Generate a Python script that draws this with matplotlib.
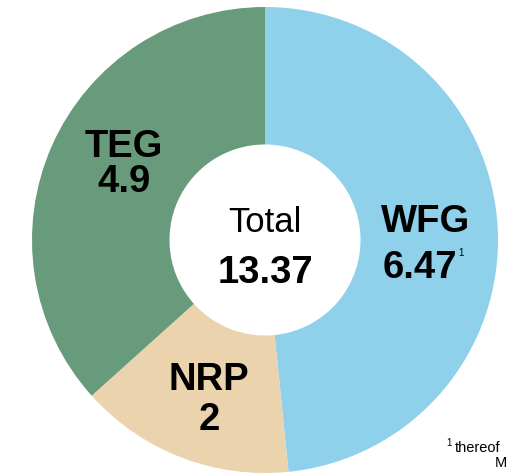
import matplotlib
matplotlib.use("Agg")
import matplotlib.pyplot as plt

plt.rcParams['font.family'] = ['Liberation Sans', 'DejaVu Sans']

labels = ['WFG', 'NRP', 'TEG']
values = [6.47, 2, 4.9]
colors = ['#8fd1eb', '#ebd3ae', '#689b7b']
total = 13.37

fig = plt.figure(figsize=(5.08, 4.75), dpi=100)
# center of the donut at about (265, 240) px, radius 233 px
ax = fig.add_axes([(265 - 233) / 508, (235 - 233) / 475, 466 / 508, 466 / 475])
ax.pie(values, colors=colors, startangle=90, counterclock=False, radius=1,
       wedgeprops=dict(width=1 - 0.41, edgecolor='none'))
ax.set_xlim(-1, 1)
ax.set_ylim(-1, 1)
ax.set_aspect('equal')
ax.axis('off')

# label baselines, in data units of the pie
pos = {'WFG': (0.691, 0.034, 0.665, -0.163),
       'NRP': (-0.24, -0.644, -0.24, -0.815),
       'TEG': (-0.605, 0.356, -0.605, 0.206)}
for lab, val in zip(labels, values):
    x1, y1, x2, y2 = pos[lab]
    ax.text(x1, y1, lab, ha='center', va='baseline', fontsize=27.5, fontweight='bold')
    ax.text(x2, y2, f'{val:g}', ha='center', va='baseline', fontsize=27.5, fontweight='bold')
ax.text(0.83, -0.069, '1', ha='left', va='baseline', fontsize=7)

ax.text(0, 0.034, 'Total', ha='center', va='baseline', fontsize=25)
ax.text(0, -0.185, f'{total:g}', ha='center', va='baseline', fontsize=27.5, fontweight='bold')

fig.text(446 / 508, 1 - 446 / 475, '1', ha='left', va='baseline', fontsize=7)
fig.text(455 / 508, 1 - 452 / 475, 'thereof', ha='left', va='baseline', fontsize=10.5)
fig.text(495 / 508, 1 - 467 / 475, 'M', ha='left', va='baseline', fontsize=10.5)

fig.savefig('out.png', dpi=100)
